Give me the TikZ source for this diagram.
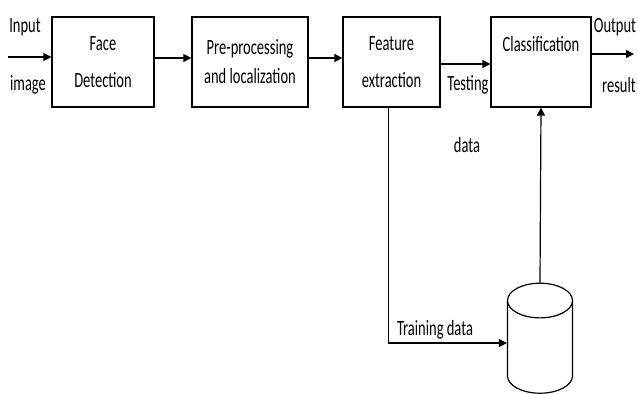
\documentclass[tikz,border=0pt]{standalone}
\usepackage{fontspec}
\setmainfont{Carlito}
\usetikzlibrary{arrows.meta,shapes.geometric}
\newcommand{\stretchtxt}[1]{\scalebox{1}[1.5]{#1}}

\begin{document}
\begin{tikzpicture}[x=1pt, y=-1pt, line width=1.2pt,
  block/.style={draw, minimum height=90pt, align=center,
    font=\fontsize{14.5}{37}\selectfont},
  lbl/.style={font=\fontsize{14.5}{17}\selectfont, inner sep=0pt},
  arr/.style={-{Triangle[length=8pt,width=8pt]}}]
  \useasboundingbox (0,0) rectangle (638,394);
  \node[block, minimum width=102pt] (face) at (103,62)
    {\stretchtxt{Face}\\\stretchtxt{Detection}};
  \node[block, minimum width=116pt, font=\fontsize{14.5}{29}\selectfont] (pre) at (250,62)
    {\stretchtxt{Pre-processing}\\\stretchtxt{and localization}};
  \node[block, minimum width=97pt] (feat) at (391.5,62)
    {\stretchtxt{Feature}\\\stretchtxt{extraction}};
  \node[block, minimum width=100pt,
    label={[lbl, anchor=center, yshift=-28pt]north:\stretchtxt{Classification}}] (class) at (541,62) {};
  \node[cylinder, draw, shape border rotate=90, minimum width=65pt,
    minimum height=110pt, aspect=5.2] (db) at (540,351) {};
  % labels
  \node[lbl] (inlbl) at (25,27) {\stretchtxt{Input}};
  \node[lbl] (imglbl) at (28,85) {\stretchtxt{image}};
  \node[lbl] (testlbl) at (468,85) {\stretchtxt{Testing}};
  \node[lbl] (datalbl) at (467,145) {\stretchtxt{data}};
  \node[lbl] (outlbl) at (615,27) {\stretchtxt{Output}};
  \node[lbl] (reslbl) at (619,85) {\stretchtxt{result}};
  \node[lbl] (trainlbl) at (435,330) {\stretchtxt{Training data}};
  % arrows
  \coordinate (in) at (8,57);
  \coordinate (out) at (634,54);
  \draw[arr] (in) -- (in -| face.west);
  \draw[arr] ([yshift=4pt]face.east) -- ([yshift=4pt]pre.west);
  \draw[arr] ([yshift=4pt]pre.east) -- ([yshift=4pt]feat.west);
  \draw[arr] ([yshift=-2pt]feat.east) -- ([yshift=-2pt]class.west);
  \draw[arr] (out -| class.east) -- (out);
  \draw[arr] ([xshift=-3pt]feat.south) |- ([yshift=8pt]db.west);
  \draw[arr] (db.north) -- (class.south);
\end{tikzpicture}
\end{document}
